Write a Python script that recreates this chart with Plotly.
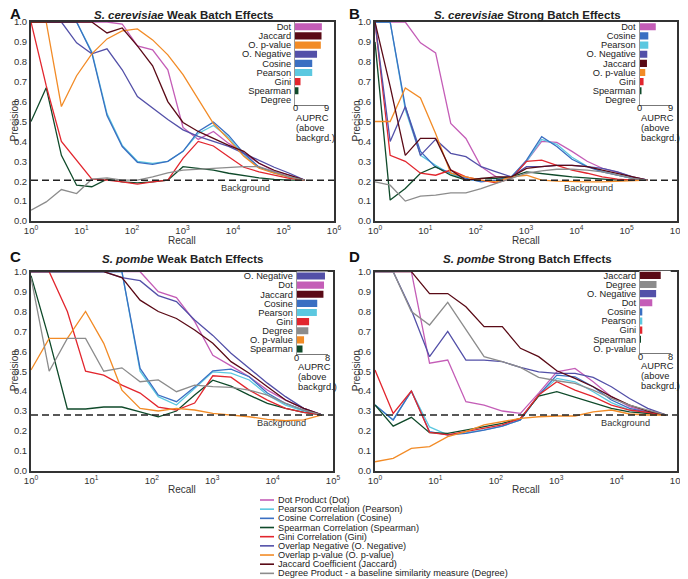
import plotly.graph_objects as go

# the page body has an 8px margin, so the figure is sized to fill the rest of the window
PAGE_OFF = 8
W, H = 688 - PAGE_OFF, 579 - PAGE_OFF
FONT = "Arial, Liberation Sans, sans-serif"

METHODS = ["Dot", "Pearson", "Cosine", "Spearman", "Gini", "O. Negative", "O. p-value", "Jaccard", "Degree"]
LEGEND_LABELS = [
    "Dot Product (Dot)",
    "Pearson Correlation (Pearson)",
    "Cosine Correlation (Cosine)",
    "Spearman Correlation (Spearman)",
    "Gini Correlation (Gini)",
    "Overlap Negative (O. Negative)",
    "Overlap p-value (O. p-value)",
    "Jaccard Coefficient (Jaccard)",
    "Degree Product - a baseline similarity measure (Degree)",
]
COLORS = {
    "Dot": "#c45db7",
    "Pearson": "#5cc8e0",
    "Cosine": "#3a6fc2",
    "Spearman": "#0f4a2a",
    "Gini": "#e2262e",
    "O. Negative": "#5350a8",
    "O. p-value": "#f28b26",
    "Jaccard": "#5a0a16",
    "Degree": "#8c8c8c",
}

# recall values (x) per organism
RECALL_CER = [1, 2, 4, 8, 16, 32, 64, 128, 256, 512, 1024, 2048, 4096, 8192,
              16384, 32768, 65536, 131072, 262144]
RECALL_POM = [1, 2, 4, 8, 16, 32, 64, 128, 256, 512, 1024, 2048, 4096, 8192,
              16384, 32768, 65536]
BG_CER = 0.205
BG_POM = 0.28

# A: S. cerevisiae weak batch effects
A_DOT = [1, 1, 1, 1, 1, 1, 0.99, 0.88, 0.86, 0.76, 0.47, 0.41, 0.45, 0.39, 0.34, 0.29, 0.25, 0.23, 0.205]
A_PEARSON = [1, 1, 1, 1, 0.85, 0.54, 0.38, 0.30, 0.29, 0.30, 0.35, 0.44, 0.48, 0.42, 0.33, 0.27, 0.24, 0.22, 0.205]
A_COSINE = [1, 1, 1, 1, 0.845, 0.53, 0.374, 0.295, 0.285, 0.30, 0.35, 0.45, 0.497, 0.43, 0.34, 0.27, 0.245, 0.22, 0.205]
A_SPEARMAN = [0.5, 0.67, 0.33, 0.18, 0.172, 0.21, 0.197, 0.192, 0.197, 0.205, 0.273, 0.264, 0.256, 0.24, 0.227, 0.217, 0.209, 0.205, 0.205]
A_GINI = [1, 0.68, 0.40, 0.305, 0.21, 0.205, 0.197, 0.185, 0.197, 0.205, 0.315, 0.40, 0.377, 0.323, 0.27, 0.247, 0.23, 0.214, 0.205]
A_ONEG = [1, 1, 1, 0.895, 0.84, 0.865, 0.76, 0.625, 0.567, 0.51, 0.458, 0.425, 0.40, 0.375, 0.34, 0.305, 0.27, 0.24, 0.205]
A_OPVAL = [1, 1, 0.575, 0.73, 0.84, 0.915, 0.955, 0.965, 0.91, 0.835, 0.735, 0.61, 0.49, 0.41, 0.325, 0.265, 0.24, 0.22, 0.205]
A_JACCARD = [1, 1, 1, 1, 1, 0.945, 0.97, 0.88, 0.78, 0.60, 0.495, 0.45, 0.415, 0.38, 0.35, 0.29, 0.255, 0.23, 0.205]
A_DEGREE = [0.054, 0.096, 0.158, 0.138, 0.21, 0.217, 0.205, 0.205, 0.222, 0.242, 0.256, 0.26, 0.264, 0.27, 0.273, 0.273, 0.247, 0.222, 0.205]

# B: S. cerevisiae strong batch effects
B_DOT = [1, 1, 1, 0.895, 0.845, 0.49, 0.415, 0.273, 0.222, 0.214, 0.30, 0.40, 0.395, 0.35, 0.30, 0.265, 0.245, 0.22, 0.205]
B_PEARSON = [1, 1, 0.56, 0.33, 0.28, 0.235, 0.21, 0.20, 0.205, 0.222, 0.30, 0.41, 0.385, 0.32, 0.275, 0.25, 0.23, 0.214, 0.205]
B_COSINE = [1, 1, 0.575, 0.35, 0.27, 0.24, 0.214, 0.197, 0.205, 0.222, 0.306, 0.424, 0.374, 0.31, 0.273, 0.247, 0.23, 0.214, 0.205]
B_SPEARMAN = [0.9, 0.105, 0.163, 0.24, 0.273, 0.23, 0.205, 0.214, 0.214, 0.222, 0.247, 0.24, 0.23, 0.222, 0.217, 0.21, 0.205, 0.205, 0.205]
B_GINI = [1, 0.33, 0.30, 0.24, 0.23, 0.256, 0.222, 0.205, 0.192, 0.214, 0.30, 0.306, 0.28, 0.256, 0.24, 0.222, 0.21, 0.205, 0.205]
B_ONEG = [1, 0.40, 0.575, 0.33, 0.41, 0.34, 0.323, 0.273, 0.247, 0.222, 0.273, 0.273, 0.28, 0.28, 0.273, 0.264, 0.247, 0.222, 0.205]
B_OPVAL = [0.5, 0.5, 0.668, 0.618, 0.44, 0.24, 0.222, 0.205, 0.197, 0.222, 0.23, 0.205, 0.2, 0.197, 0.197, 0.197, 0.2, 0.205, 0.205]
B_JACCARD = [1, 0.677, 0.33, 0.415, 0.415, 0.256, 0.205, 0.214, 0.222, 0.222, 0.264, 0.273, 0.28, 0.28, 0.273, 0.256, 0.24, 0.222, 0.205]
B_DEGREE = [0.197, 0.18, 0.10, 0.125, 0.13, 0.141, 0.141, 0.163, 0.189, 0.214, 0.24, 0.252, 0.26, 0.26, 0.256, 0.247, 0.23, 0.214, 0.205]

# C: S. pombe weak batch effects
C_DOT = [1, 1, 1, 1, 1, 1, 1, 0.90, 0.87, 0.75, 0.58, 0.527, 0.472, 0.405, 0.355, 0.313, 0.28]
C_PEARSON = [1, 1, 1, 1, 1, 1, 0.50, 0.372, 0.33, 0.414, 0.497, 0.49, 0.456, 0.38, 0.33, 0.30, 0.28]
C_COSINE = [1, 1, 1, 1, 1, 1, 0.514, 0.38, 0.347, 0.42, 0.502, 0.51, 0.472, 0.39, 0.338, 0.305, 0.28]
C_SPEARMAN = [0.98, 0.66, 0.31, 0.31, 0.32, 0.32, 0.296, 0.271, 0.30, 0.38, 0.455, 0.425, 0.38, 0.338, 0.313, 0.293, 0.28]
C_GINI = [1, 1, 0.80, 0.50, 0.48, 0.43, 0.39, 0.32, 0.305, 0.34, 0.477, 0.47, 0.405, 0.355, 0.313, 0.293, 0.28]
C_ONEG = [1, 1, 1, 1, 1, 0.97, 0.955, 0.88, 0.85, 0.757, 0.68, 0.59, 0.514, 0.44, 0.372, 0.313, 0.28]
C_OPVAL = [0.506, 0.665, 0.665, 0.80, 0.64, 0.405, 0.313, 0.30, 0.313, 0.305, 0.288, 0.28, 0.271, 0.258, 0.251, 0.255, 0.28]
C_JACCARD = [1, 1, 1, 1, 1, 0.97, 0.857, 0.80, 0.765, 0.707, 0.64, 0.548, 0.49, 0.422, 0.355, 0.313, 0.28]
C_DEGREE = [0.97, 0.50, 0.665, 0.665, 0.50, 0.517, 0.447, 0.456, 0.397, 0.43, 0.422, 0.419, 0.405, 0.38, 0.338, 0.305, 0.28]

# D: S. pombe strong batch effects
D_DOT = [1, 1, 1, 0.54, 0.556, 0.347, 0.33, 0.30, 0.288, 0.39, 0.497, 0.514, 0.447, 0.372, 0.322, 0.293, 0.28]
D_PEARSON = [0.33, 0.255, 0.40, 0.22, 0.18, 0.19, 0.205, 0.224, 0.255, 0.38, 0.464, 0.447, 0.397, 0.342, 0.305, 0.29, 0.28]
D_COSINE = [0.33, 0.255, 0.40, 0.196, 0.18, 0.188, 0.204, 0.224, 0.255, 0.38, 0.48, 0.472, 0.422, 0.355, 0.313, 0.293, 0.28]
D_SPEARMAN = [0.33, 0.224, 0.268, 0.191, 0.188, 0.204, 0.221, 0.238, 0.263, 0.375, 0.397, 0.369, 0.338, 0.313, 0.296, 0.288, 0.28]
D_GINI = [0.506, 0.288, 0.40, 0.193, 0.18, 0.196, 0.213, 0.23, 0.263, 0.38, 0.447, 0.405, 0.372, 0.33, 0.305, 0.291, 0.28]
D_ONEG = [1, 1, 0.807, 0.573, 0.70, 0.556, 0.556, 0.548, 0.519, 0.497, 0.489, 0.489, 0.469, 0.422, 0.363, 0.313, 0.28]
D_OPVAL = [0.045, 0.062, 0.112, 0.121, 0.171, 0.196, 0.23, 0.246, 0.263, 0.271, 0.275, 0.275, 0.296, 0.305, 0.285, 0.28, 0.28]
D_JACCARD = [1, 1, 1, 0.89, 0.89, 0.824, 0.724, 0.724, 0.615, 0.573, 0.502, 0.464, 0.422, 0.372, 0.33, 0.30, 0.28]
D_DEGREE = [1, 1, 0.80, 0.732, 0.846, 0.707, 0.573, 0.548, 0.519, 0.469, 0.452, 0.439, 0.405, 0.363, 0.33, 0.305, 0.28]

# AUPRC (above background) insets
A_BAR_LABELS = ["Dot", "Jaccard", "O. p-value", "O. Negative", "Cosine", "Pearson", "Gini", "Spearman", "Degree"]
A_BAR_VALUES = [7.8, 7.7, 7.5, 6.4, 5.0, 5.0, 1.6, 1.0, 0.0]
B_BAR_LABELS = ["Dot", "Cosine", "Pearson", "O. Negative", "Jaccard", "O. p-value", "Gini", "Spearman", "Degree"]
B_BAR_VALUES = [4.8, 2.6, 2.6, 2.3, 2.2, 1.7, 1.2, 0.5, 0.0]
C_BAR_LABELS = ["O. Negative", "Dot", "Jaccard", "Cosine", "Pearson", "Gini", "Degree", "O. p-value", "Spearman"]
C_BAR_VALUES = [7.3, 7.05, 6.9, 5.3, 5.2, 3.2, 3.0, 1.9, 1.5]
D_BAR_LABELS = ["Jaccard", "Degree", "O. Negative", "Dot", "Cosine", "Pearson", "Gini", "Spearman", "O. p-value"]
D_BAR_VALUES = [5.4, 4.3, 4.2, 3.2, 0.6, 0.6, 0.6, 0.05, 0.0]


def pxx(v):
    # window pixel -> paper fraction
    return (v - PAGE_OFF) / W


def pxy(v):
    return 1 - (v - PAGE_OFF) / H


def sup_ticks(n):
    return [10 ** k for k in range(n + 1)], ["10<sup>%d</sup>" % k for k in range(n + 1)]


def ax_names(k):
    s = "" if k == 1 else str(k)
    return "x" + s, "y" + s, "xaxis" + s, "yaxis" + s


panels = [
    dict(letter="A", title="<b><i>S. cerevisiae</i> Weak Batch Effects</b>", recall=RECALL_CER, bg=BG_CER,
         lines=[A_DOT, A_PEARSON, A_COSINE, A_SPEARMAN, A_GINI, A_ONEG, A_OPVAL, A_JACCARD, A_DEGREE],
         bar_labels=A_BAR_LABELS, bar_values=A_BAR_VALUES, bar_max=9, decades=6,
         box=(31, 334, 22, 221), inset=(295, 326, 22.2, 104.5)),
    dict(letter="B", title="<b><i>S. cerevisiae</i> Strong Batch Effects</b>", recall=RECALL_CER, bg=BG_CER,
         lines=[B_DOT, B_PEARSON, B_COSINE, B_SPEARMAN, B_GINI, B_ONEG, B_OPVAL, B_JACCARD, B_DEGREE],
         bar_labels=B_BAR_LABELS, bar_values=B_BAR_VALUES, bar_max=9, decades=6,
         box=(375, 677, 22, 221), inset=(639.5, 670, 22.2, 104.5)),
    dict(letter="C", title="<b><i>S. pombe</i> Weak Batch Effects</b>", recall=RECALL_POM, bg=BG_POM,
         lines=[C_DOT, C_PEARSON, C_COSINE, C_SPEARMAN, C_GINI, C_ONEG, C_OPVAL, C_JACCARD, C_DEGREE],
         bar_labels=C_BAR_LABELS, bar_values=C_BAR_VALUES, bar_max=8, decades=5,
         box=(31, 333, 271.7, 470.7), inset=(296.7, 327.7, 271.5, 353.5)),
    dict(letter="D", title="<b><i>S. pombe</i> Strong Batch Effects</b>", recall=RECALL_POM, bg=BG_POM,
         lines=[D_DOT, D_PEARSON, D_COSINE, D_SPEARMAN, D_GINI, D_ONEG, D_OPVAL, D_JACCARD, D_DEGREE],
         bar_labels=D_BAR_LABELS, bar_values=D_BAR_VALUES, bar_max=8, decades=5,
         box=(375, 677, 271.7, 470.7), inset=(640, 670.7, 270.8, 353)),
]

fig = go.Figure()
layout = dict(
    width=W, height=H,
    margin=dict(l=0, r=0, t=0, b=0, autoexpand=False),
    paper_bgcolor="white", plot_bgcolor="white",
    font=dict(family=FONT, size=9.5, color="#222"),
    showlegend=False,
    bargap=0.2,
)
annotations = []
shapes = []
TICKFONT = dict(size=9.5, color="#333")

for i, p in enumerate(panels):
    k = i + 1
    xa, ya, xkey, ykey = ax_names(k)
    x0, x1, y0, y1 = p["box"]
    tv, tt = sup_ticks(p["decades"])
    for m, vals in zip(METHODS, p["lines"]):
        fig.add_trace(go.Scatter(x=p["recall"], y=vals, mode="lines", name=m,
                                 line=dict(color=COLORS[m], width=1.3),
                                 xaxis=xa, yaxis=ya, hoverinfo="skip"))
    layout[xkey] = dict(
        type="log", range=[0, p["decades"]], domain=[pxx(x0), pxx(x1)], anchor=ya,
        showline=True, mirror=True, linecolor="#333", linewidth=2, automargin=False,
        showgrid=False, zeroline=False, ticks="", tickvals=tv, ticktext=tt,
        tickfont=TICKFONT,
    )
    layout[ykey] = dict(
        range=[0, 1], domain=[pxy(y1), pxy(y0)], anchor=xa,
        showline=True, mirror=True, linecolor="#333", linewidth=2, automargin=False,
        showgrid=False, zeroline=False, ticks="", dtick=0.1, tickformat=".1f",
        tickfont=TICKFONT,
    )
    # background line
    shapes.append(dict(type="line", xref="%s domain" % xa, yref=ya, x0=0, x1=1,
                       y0=p["bg"], y1=p["bg"], line=dict(color="#222", width=1.6, dash="7px,4px")))
    annotations.append(dict(text="Background", xref=xa, yref=ya, x=4.25 if p["decades"] == 6 else 4.15,
                            y=p["bg"], xanchor="center", yanchor="top", yshift=-1, showarrow=False,
                            font=dict(size=9.2, color="#333")))
    cx = (x0 + x1) / 2
    title_y = max(y0 - 12.5, 15)
    annotations.append(dict(text=p["title"], xref="paper", yref="paper", x=pxx(cx + 1),
                            y=pxy(title_y), xanchor="center", yanchor="middle", showarrow=False,
                            font=dict(size=11.5, color="#222")))
    annotations.append(dict(text="<b>%s</b>" % p["letter"], xref="paper", yref="paper",
                            x=max(pxx(x0 - 28), 0), y=pxy(max(y0 - 15, 13.5)), xanchor="left",
                            yanchor="middle", showarrow=False, font=dict(size=15, color="#111")))
    annotations.append(dict(text="Recall", xref="paper", yref="paper", x=pxx(cx),
                            y=pxy(y1 + 19), xanchor="center", yanchor="middle", showarrow=False,
                            font=dict(size=10, color="#333")))
    annotations.append(dict(text="Precision", xref="paper", yref="paper", x=pxx(max(x0 - 19, 14)),
                            y=pxy((y0 + y1) / 2), xanchor="center", yanchor="middle",
                            textangle=-90, showarrow=False,
                            font=dict(size=10, color="#333")))

    # AUPRC inset bars
    xb, yb, xbkey, ybkey = ax_names(k + 4)
    bx0, bx1, by0, by1 = p["inset"]
    fig.add_trace(go.Bar(x=p["bar_values"], y=p["bar_labels"], orientation="h",
                         marker=dict(color=[COLORS[m] for m in p["bar_labels"]], line=dict(width=0)),
                         xaxis=xb, yaxis=yb, hoverinfo="skip", width=0.78))
    layout[xbkey] = dict(
        range=[0, p["bar_max"]], domain=[pxx(bx0), pxx(bx1)], anchor=yb, automargin=False,
        showline=True, linecolor="#777", linewidth=1, showgrid=False, zeroline=False,
        ticks="inside", ticklen=3, tickcolor="#777", tickvals=[0, p["bar_max"]],
        showticklabels=False,
    )
    layout[ybkey] = dict(
        domain=[pxy(by1), pxy(by0)], anchor=xb, type="category", automargin=False,
        categoryorder="array", categoryarray=p["bar_labels"], autorange="reversed",
        tickmode="array", tickvals=p["bar_labels"], ticktext=p["bar_labels"],
        showline=True, linecolor="#999", linewidth=1, showgrid=False, zeroline=False,
        ticks="", tickfont=dict(size=9.3, color="#222"), ticklabelstandoff=1,
    )
    for tick in (0, p["bar_max"]):
        annotations.append(dict(text=str(tick), xref=xb, yref="paper", x=tick, y=pxy(by1 + 4),
                                xanchor="center", yanchor="middle", showarrow=False,
                                font=dict(size=9.3, color="#222")))
    for j, line_text in enumerate(["AUPRC", "(above", "backgrd.)"]):
        annotations.append(dict(text=line_text, xref="paper", yref="paper", x=pxx(bx0 - 1),
                                y=pxy(by1 + 13 + 10 * j), xanchor="left", yanchor="middle",
                                showarrow=False, font=dict(size=9.3, color="#222")))

# bottom legend
for j, (m, lab) in enumerate(zip(METHODS, LEGEND_LABELS)):
    yy = 500 + 9.17 * j
    shapes.append(dict(type="line", xref="paper", yref="paper", x0=pxx(260), x1=pxx(274),
                       y0=pxy(yy), y1=pxy(yy), line=dict(color=COLORS[m], width=1.6)))
    annotations.append(dict(text=lab, xref="paper", yref="paper", x=pxx(275.5), y=pxy(yy),
                            xanchor="left", yanchor="middle", showarrow=False,
                            font=dict(size=9.2, color="#222")))

layout["annotations"] = annotations
layout["shapes"] = shapes
fig.update_layout(**layout)
fig.write_html("out.html")
